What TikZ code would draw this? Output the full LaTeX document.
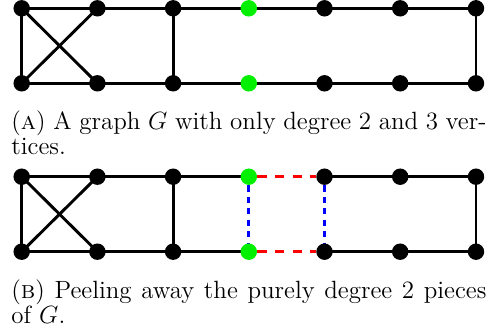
\documentclass[tikz,border=0pt]{standalone}
\usetikzlibrary{backgrounds}
\definecolor{vgreen}{RGB}{0,240,0}
\begin{document}
\begin{tikzpicture}[x=0.4808pt,y=-0.4808pt,
  edge/.style={line width=1.4pt,black},
  redd/.style={line width=1.4pt,red,dash pattern=on 4.5pt off 4pt},
  blued/.style={line width=1.4pt,blue,dash pattern=on 3pt off 2.5pt},
  vtx/.style={circle,fill=black,inner sep=0pt,minimum size=7.9pt},
  gvtx/.style={circle,fill=vgreen,inner sep=0pt,minimum size=7.9pt},
  captxt/.style={anchor=base west,inner sep=0pt,font=\fontsize{12}{14}\selectfont}]
\useasboundingbox (0,0) rectangle (488,335);
% ---------- Graph A ----------
\foreach \i/\x in {1/21.7,2/97.4,3/173.1,5/324.5,6/400.2,7/476}{
  \node[vtx] (at\i) at (\x,8.3) {};
  \node[vtx] (ab\i) at (\x,83.3) {};
}
\node[gvtx] (at4) at (248.8,8.3) {};
\node[gvtx] (ab4) at (248.8,83.3) {};
\begin{scope}[on background layer]
\foreach \a/\b in {1/2,2/3,3/4,4/5,5/6,6/7}{
  \draw[edge] (at\a.center) -- (at\b.center);
  \draw[edge] (ab\a.center) -- (ab\b.center);
}
\draw[edge] (at1.center) -- (ab1.center);
\draw[edge] (at3.center) -- (ab3.center);
\draw[edge] (at7.center) -- (ab7.center);
\draw[edge] (at1.center) -- (ab2.center);
\draw[edge] (at2.center) -- (ab1.center);
\end{scope}
\node[captxt] (capa1) at (11,129.5) {\makebox[228.4pt][s]{(\textsc{a}) A graph $G$ with only degree 2 and 3 ver-}};
\node[captxt] (capa2) at (11,154.5) {tices.};
% ---------- Graph B ----------
\foreach \i/\x in {1/21.7,2/97.4,3/173.1,5/324.5,6/400.2,7/476}{
  \node[vtx] (bt\i) at (\x,176.7) {};
  \node[vtx] (bb\i) at (\x,251.7) {};
}
\node[gvtx] (bt4) at (248.8,176.7) {};
\node[gvtx] (bb4) at (248.8,251.7) {};
\begin{scope}[on background layer]
\foreach \a/\b in {1/2,2/3,3/4,5/6,6/7}{
  \draw[edge] (bt\a.center) -- (bt\b.center);
  \draw[edge] (bb\a.center) -- (bb\b.center);
}
\draw[edge] (bt1.center) -- (bb1.center);
\draw[edge] (bt3.center) -- (bb3.center);
\draw[edge] (bt7.center) -- (bb7.center);
\draw[edge] (bt1.center) -- (bb2.center);
\draw[edge] (bt2.center) -- (bb1.center);
\draw[redd] (bt4) -- (bt5);
\draw[redd] (bb4) -- (bb5);
\draw[blued] (bt4) -- (bb4);
\draw[blued] (bt5) -- (bb5);
\end{scope}
\node[captxt] (capb1) at (11,298.5) {\makebox[228.4pt][s]{(\textsc{b}) Peeling away the purely degree 2 pieces}};
\node[captxt] (capb2) at (11,323.5) {of $G$.};
\end{tikzpicture}
\end{document}
